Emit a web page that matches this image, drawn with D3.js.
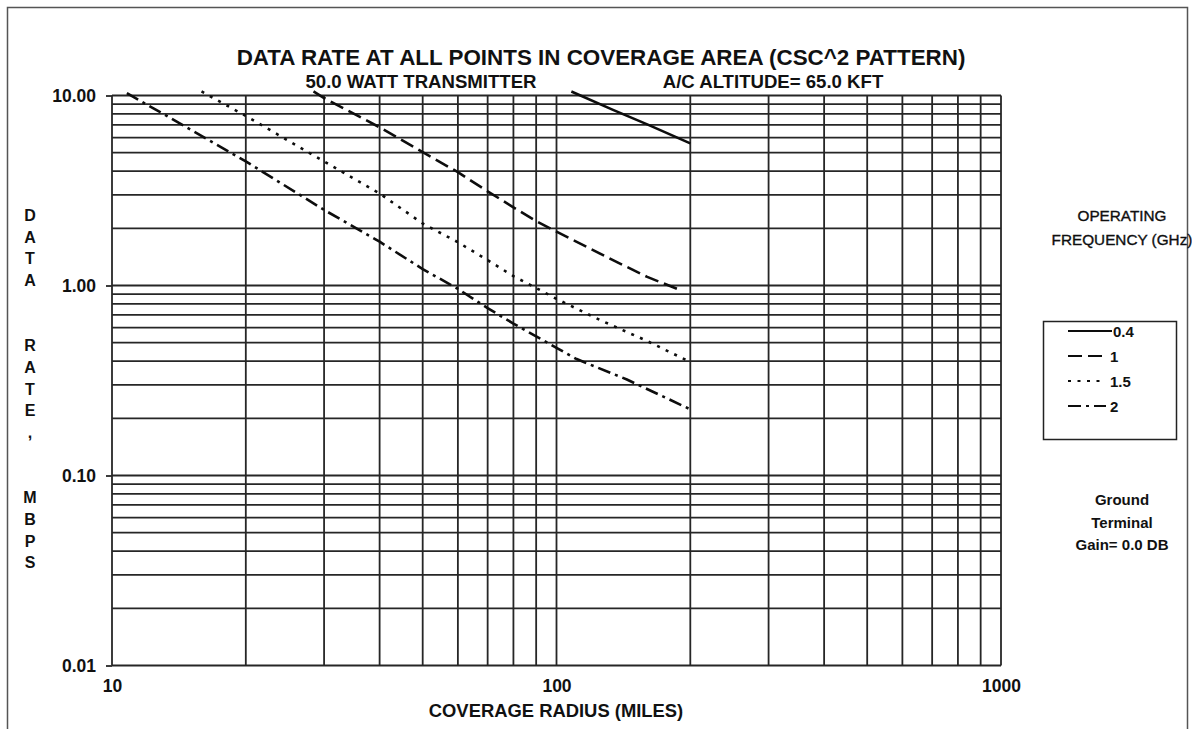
<!DOCTYPE html>
<html>
<head>
<meta charset="utf-8">
<script src="https://cdn.jsdelivr.net/npm/d3@7"></script>
<style>
  html, body { margin: 0; padding: 0; background: #fff; }
  svg { display: block; }
  text { font-family: "Liberation Sans", Arial, sans-serif; fill: #111; }
</style>
</head>
<body>
<svg id="chart" width="1192" height="729"></svg>
<script>
// Data rate (Mbps) versus coverage radius (miles), one series per operating frequency
const freq04 = [[108, 10.5], [134, 8.4], [160, 7.05], [200, 5.6]];
const freq1 = [[28.4, 10.5], [30, 9.7], [40, 6.8], [50, 5.03], [60, 3.95], [70, 3.13], [80, 2.58], [90, 2.18], [100, 1.92], [134, 1.36], [160, 1.11], [191, 0.94]];
const freq15 = [[15.9, 10.5], [20, 7.8], [30, 4.5], [40, 3.05], [50, 2.12], [60, 1.69], [70, 1.36], [80, 1.12], [90, 0.97], [100, 0.85], [125, 0.66], [160, 0.51], [198, 0.40]];
const freq2 = [[10.8, 10.3], [20, 4.5], [30, 2.5], [40, 1.7], [50, 1.22], [60, 0.96], [70, 0.76], [80, 0.63], [90, 0.54], [100, 0.47], [111, 0.41], [144, 0.32], [200, 0.223]];

const seriesNames = ["0.4", "1", "1.5", "2"];
const seriesData = [freq04, freq1, freq15, freq2];
const seriesDash = [null, "14,6", "3,6.5", "13,5,3,5"];

const yTickValues = [10, 1, 0.1, 0.01];
const yTickLabels = ["10.00", "1.00", "0.10", "0.01"];
const xTickValues = [10, 100, 1000];
const xTickLabels = ["10", "100", "1000"];

const svg = d3.select("#chart");
const plotL = 112, plotR = 1001, plotT = 95.5, plotB = 665.5;

const x = d3.scaleLog().domain([10, 1000]).range([plotL, plotR]);
const y = d3.scaleLog().domain([0.01, 10]).range([plotB, plotT]);

// page frame
svg.append("rect")
  .attr("x", 7.5).attr("y", 7.5).attr("width", 1180).attr("height", 740)
  .attr("fill", "none").attr("stroke", "#555").attr("stroke-width", 1.5);

// log grid: every integer multiple inside each decade
const xGrid = [];
for (let e = 1; e <= 2; e++) for (let k = 1; k <= 9; k++) xGrid.push(k * Math.pow(10, e));
xGrid.push(1000);
const yGrid = [];
for (let e = -2; e <= 0; e++) for (let k = 1; k <= 9; k++) yGrid.push(k * Math.pow(10, e));
yGrid.push(10);

const grid = svg.append("g").attr("stroke", "#262626").attr("stroke-width", 1.8);
grid.selectAll("line.h").data(yGrid).join("line").attr("class", "h")
  .attr("x1", plotL).attr("x2", plotR)
  .attr("y1", d => y(d)).attr("y2", d => y(d));
grid.selectAll("line.v").data(xGrid).join("line").attr("class", "v")
  .attr("y1", plotT).attr("y2", plotB)
  .attr("x1", d => x(d)).attr("x2", d => x(d));

// y axis: major ticks with fixed-decimal labels
const yAxis = d3.axisLeft(y).tickValues(yTickValues)
  .tickFormat((d, i) => yTickLabels[i]).tickSize(6).tickPadding(10);
const gy = svg.append("g").attr("transform", `translate(${plotL},0)`).call(yAxis);
gy.select(".domain").remove();
gy.selectAll(".tick line").attr("stroke", "#262626").attr("stroke-width", 1.8);
gy.selectAll(".tick text").attr("font-size", 17.5).attr("font-weight", "bold")
  .attr("font-family", "Liberation Sans, Arial, sans-serif").attr("fill", "#111");

// x axis labels below the grid
const xAxis = d3.axisBottom(x).tickValues(xTickValues)
  .tickFormat((d, i) => xTickLabels[i]).tickSize(0).tickPadding(14);
const gx = svg.append("g").attr("transform", `translate(0,${plotB})`).call(xAxis);
gx.select(".domain").remove();
gx.selectAll(".tick text").attr("font-size", 17.5).attr("font-weight", "bold")
  .attr("font-family", "Liberation Sans, Arial, sans-serif").attr("fill", "#111");

// curves
const line = d3.line().x(d => x(d[0])).y(d => y(d[1]));
seriesData.forEach((data, i) => {
  svg.append("path").datum(data)
    .attr("d", line)
    .attr("fill", "none").attr("stroke", "#0d0d0d").attr("stroke-width", 2.6)
    .attr("stroke-dasharray", seriesDash[i]);
});

// titles
svg.append("text").attr("x", 601).attr("y", 65).attr("text-anchor", "middle")
  .attr("font-size", 22.4).attr("font-weight", "bold")
  .text("DATA RATE AT ALL POINTS IN COVERAGE AREA (CSC^2 PATTERN)");
svg.append("text").attr("x", 421).attr("y", 88).attr("text-anchor", "middle")
  .attr("font-size", 18.6).attr("font-weight", "bold").text("50.0 WATT TRANSMITTER");
svg.append("text").attr("x", 773).attr("y", 88).attr("text-anchor", "middle")
  .attr("font-size", 18.6).attr("font-weight", "bold").text("A/C ALTITUDE= 65.0 KFT");

// x axis title
svg.append("text").attr("x", 556).attr("y", 717).attr("text-anchor", "middle")
  .attr("font-size", 18.4).attr("font-weight", "bold").text("COVERAGE RADIUS (MILES)");

// y axis title, one character per row
const yTitle = "DATA  RATE,  MBPS".split("");
svg.append("g").selectAll("text").data(yTitle).join("text")
  .attr("x", 30).attr("y", (d, i) => 221 + i * 21.7)
  .attr("text-anchor", "middle").attr("font-size", 16).attr("font-weight", "bold")
  .text(d => d);

// right-hand notes
const note = (lines, y0, dy, weight, size) => lines.forEach((t, i) =>
  svg.append("text").attr("x", 1122).attr("y", y0 + i * dy).attr("text-anchor", "middle")
    .attr("font-size", size).attr("font-weight", weight).attr("fill", "#0a0a0a")
    .attr("stroke", weight === "normal" ? "#0a0a0a" : "none").attr("stroke-width", 0.35)
    .text(t));
note(["OPERATING", "FREQUENCY (GHz)"], 221, 24, "normal", 15.3);
note(["Ground", "Terminal", "Gain= 0.0 DB"], 505, 22.5, "bold", 15);

// legend
const lg = svg.append("g");
lg.append("rect").attr("x", 1043.5).attr("y", 321.5).attr("width", 133).attr("height", 118)
  .attr("fill", "#fff").attr("stroke", "#222").attr("stroke-width", 1.5);
seriesNames.forEach((name, i) => {
  const ly = 331 + i * 25;
  lg.append("line").attr("x1", 1068).attr("x2", i === 0 ? 1112 : 1106)
    .attr("y1", ly).attr("y2", ly)
    .attr("stroke", "#0d0d0d").attr("stroke-width", 2)
    .attr("stroke-dasharray", seriesDash[i]);
  lg.append("text").attr("x", i === 0 ? 1113 : 1110).attr("y", ly + 5.5)
    .attr("font-size", 15).attr("font-weight", "bold").text(name);
});
</script>
</body>
</html>
